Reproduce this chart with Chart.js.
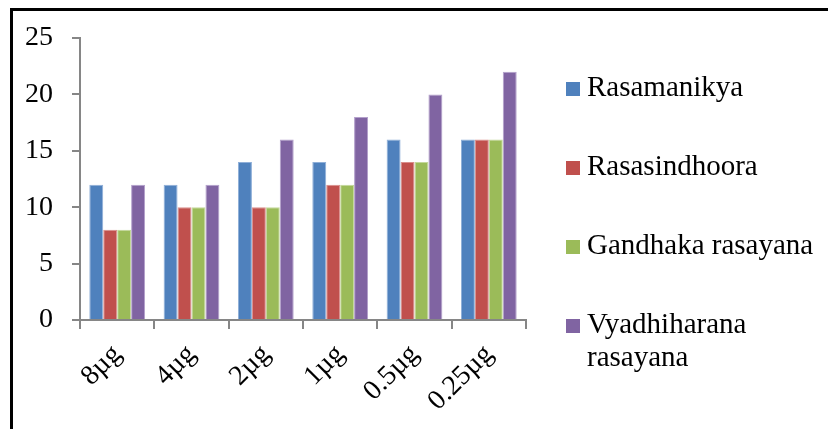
<!DOCTYPE html>
<html>
<head>
<meta charset="utf-8">
<script src="https://cdn.jsdelivr.net/npm/chart.js@4.4.0/dist/chart.umd.min.js"></script>
<style>
  html, body { margin: 0; padding: 0; background: #fff; }
  #wrap { position: relative; width: 828px; height: 429px; overflow: hidden; }
  #frame { position: absolute; left: 10px; top: 8px; right: -10px; bottom: -10px;
           border-left: 3px solid #000; border-top: 3px solid #000; }
  canvas { position: absolute; left: 0; top: 0; }
</style>
</head>
<body>
<div id="wrap">
  <div id="frame"></div>
  <canvas id="c" width="828" height="429"></canvas>
</div>
<script>
// Doses tested
const doses = ['8µg', '4µg', '2µg', '1µg', '0.5µg', '0.25µg'];

// Values per formulation
const rasamanikya          = [12, 12, 14, 14, 16, 16];
const rasasindhoora        = [8, 10, 10, 12, 14, 16];
const gandhakaRasayana     = [8, 10, 10, 12, 14, 16];
const vyadhiharanaRasayana = [12, 12, 16, 18, 20, 22];

const seriesNames = ['Rasamanikya', 'Rasasindhoora', 'Gandhaka rasayana', 'Vyadhiharana rasayana'];
const seriesColors = ['#4F81BD', '#C0504D', '#9BBB59', '#8064A2'];
const seriesEdges  = ['#8FAFD8', '#DA8E8C', '#C3D89A', '#B3A0CB'];

const yMin = 0, yMax = 25, yStep = 5;

const SERIF = "'Liberation Serif', 'Times New Roman', serif";
const AXIS_GREY = '#868686';

// Legend drawn at the right of the plot, wrapping long labels
const sideLegend = {
  id: 'sideLegend',
  afterDraw(chart) {
    const ctx = chart.ctx;
    const x0 = 566, box = 14, textX = 587, maxW = 232;
    const firstBase = 96, rowStep = 79, lineH = 33;
    ctx.save();
    ctx.font = '29px ' + SERIF;
    ctx.textAlign = 'left';
    ctx.textBaseline = 'alphabetic';
    chart.data.datasets.forEach((ds, i) => {
      const base = firstBase + i * rowStep;
      ctx.fillStyle = ds.backgroundColor;
      ctx.fillRect(x0, base - box, box, box);
      // word wrap
      const words = ds.label.split(' ');
      const lines = [];
      let cur = '';
      words.forEach(w => {
        const test = cur ? cur + ' ' + w : w;
        if (ctx.measureText(test).width > maxW && cur) { lines.push(cur); cur = w; }
        else cur = test;
      });
      if (cur) lines.push(cur);
      ctx.fillStyle = '#000';
      lines.forEach((ln, k) => ctx.fillText(ln, textX, base + k * lineH));
    });
    ctx.restore();
  }
};

const values = [rasamanikya, rasasindhoora, gandhakaRasayana, vyadhiharanaRasayana];

new Chart(document.getElementById('c'), {
  type: 'bar',
  data: {
    labels: doses,
    datasets: values.map((v, i) => ({
      label: seriesNames[i],
      data: v,
      backgroundColor: seriesColors[i],
      borderColor: seriesEdges[i],
      borderWidth: 1,
      categoryPercentage: 0.75,
      barPercentage: 1.0
    }))
  },
  options: {
    responsive: false,
    animation: false,
    layout: { padding: { left: 0, top: 38, right: 302, bottom: 0 } },
    plugins: { legend: { display: false }, tooltip: { enabled: false } },
    scales: {
      x: {
        offset: true,
        grid: { offset: true, drawOnChartArea: false, drawTicks: true, tickLength: 9,
                color: AXIS_GREY, lineWidth: 2 },
        border: { display: true, color: AXIS_GREY, width: 2 },
        ticks: { color: '#000', font: { family: SERIF, size: 28 },
                 minRotation: 45, maxRotation: 45, padding: 9, autoSkip: false },
        afterFit(scale) { scale.height = 109; }
      },
      y: {
        min: yMin, max: yMax,
        grid: { drawOnChartArea: false, drawTicks: true, tickLength: 8,
                color: AXIS_GREY, lineWidth: 2 },
        border: { display: true, color: AXIS_GREY, width: 2 },
        ticks: { stepSize: yStep, color: '#000', font: { family: SERIF, size: 28 }, padding: 19 },
        afterFit(scale) { scale.width = 80; }
      }
    }
  },
  plugins: [sideLegend]
});
</script>
</body>
</html>
